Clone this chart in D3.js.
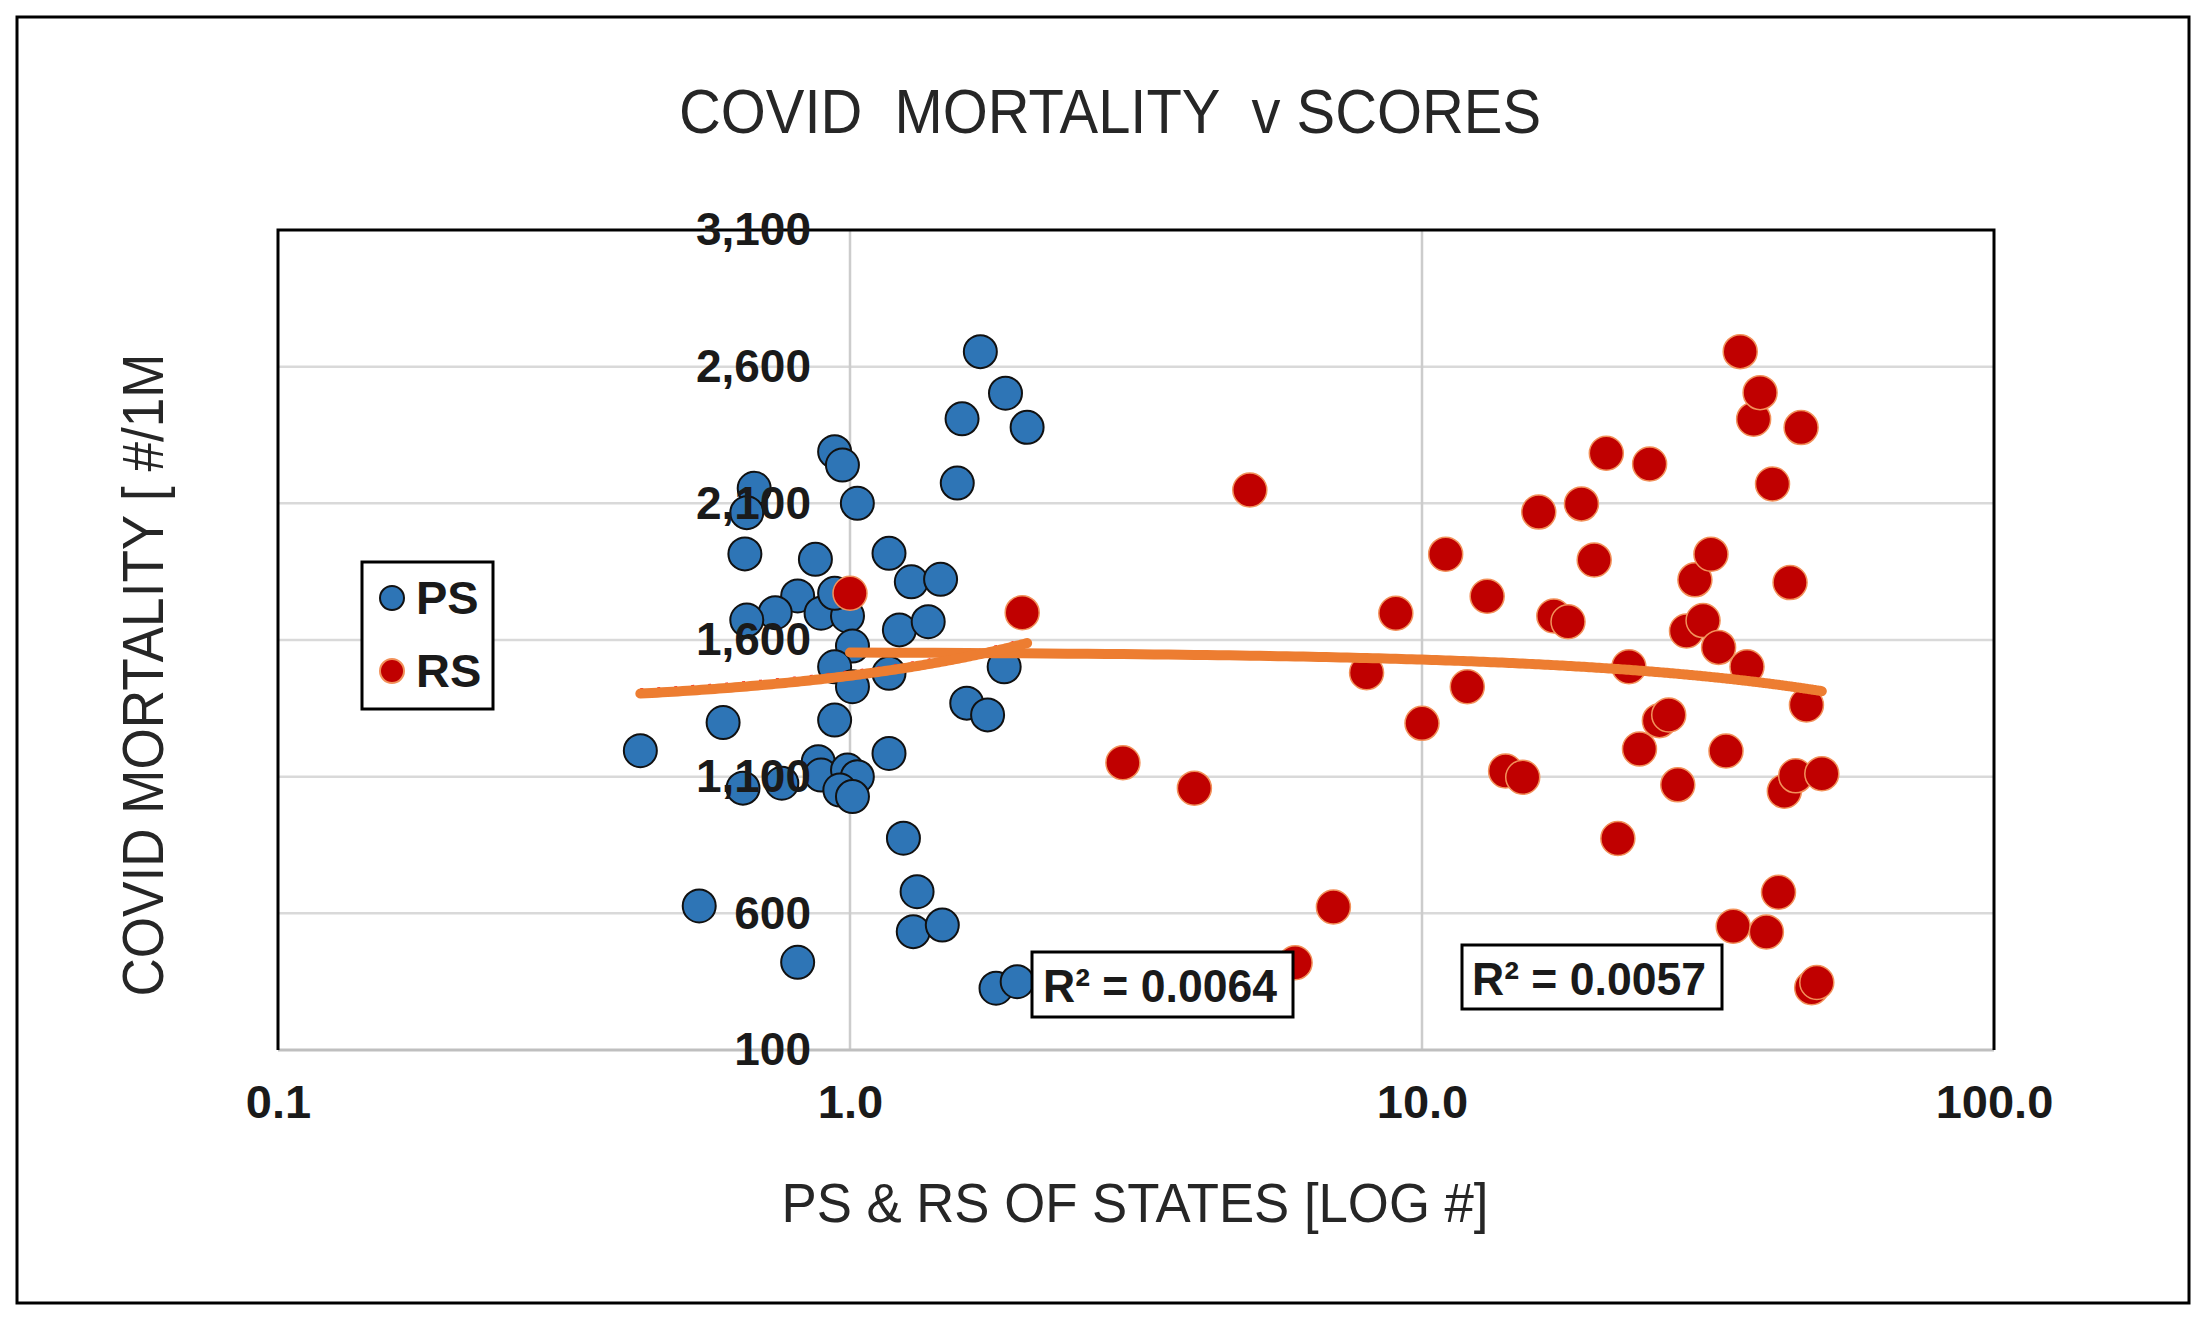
<!DOCTYPE html>
<html>
<head>
<meta charset="utf-8">
<script src="https://cdn.jsdelivr.net/npm/d3@7"></script>
<style>
  body { margin: 0; background: #fff; }
  svg { display: block; }
</style>
</head>
<body>
<div id="chart"></div>
<script>
// PS series: score (log x) and covid mortality per 1M
const psX = [1.69, 1.87, 1.57, 2.04, 0.94, 0.97, 1.54, 0.68, 0.66, 1.03,
             0.655, 0.87, 1.17, 1.28, 1.44, 0.81, 0.74, 0.66, 0.89, 0.99,
             1.22, 1.37, 0.94, 1.01, 0.94, 1.17, 1.86, 1.01, 1.60, 1.74,
             0.60, 0.94, 0.43, 1.17, 0.88, 0.89, 0.99, 1.03, 0.96, 1.01,
             0.65, 0.76, 1.24, 1.31, 1.29, 1.45, 0.545, 0.81, 1.80, 1.96];
const psY = [2655, 2503, 2409, 2378, 2289, 2240, 2174, 2155, 2066, 2100,
             1915, 1895, 1917, 1813, 1822, 1761, 1700, 1673, 1698, 1688,
             1637, 1667, 1771, 1578, 1502, 1478, 1502, 1429, 1369, 1326,
             1298, 1307, 1195, 1185, 1155, 1106, 1124, 1100, 1051, 1027,
             1058, 1076, 875, 679, 533, 557, 627, 421, 326, 350];

// RS series: rank of state (log x) and covid mortality per 1M
const rsX = [1, 2, 3, 4, 5, 6, 7, 8, 9, 10,
             11, 12, 13, 14, 15, 16, 17, 18, 19, 20,
             21, 22, 23, 24, 25, 26, 27, 28, 29, 30,
             31, 32, 33, 34, 35, 36, 37, 38, 39, 40,
             41, 42, 43, 44, 45, 46, 47, 48, 49, 50];
const rsY = [1771, 1700, 1151, 1058, 2149, 419, 623, 1480, 1698, 1295,
             1914, 1429, 1760, 1121, 1098, 2068, 1688, 1667, 2098, 1893,
             2283, 874, 1502, 1201, 2244, 1305, 1326, 1070, 1633, 1820,
             1671, 1914, 1573, 1194, 553, 2655, 1502, 2408, 2505, 532,
             2171, 677, 1047, 1810, 1103, 2377, 1362, 328, 347, 1111];

const xTicks = [0.1, 1, 10, 100];
const yTicks = [100, 600, 1100, 1600, 2100, 2600, 3100];
const seriesNames = ["PS", "RS"];
const r2Labels = ["R\u00B2 = 0.0064", "R\u00B2 = 0.0057"];

const FONT = "'Liberation Sans', Arial, Helvetica, sans-serif";
const BLUE = "#2E75B6", RED = "#C00000", ORANGE = "#ED7D31";

const width = 2210, height = 1329;
const plot = { left: 278, right: 1994, top: 230, bottom: 1050 };

const svg = d3.select("#chart")
    .append("svg")
    .attr("width", width)
    .attr("height", height)
    .style("font-family", FONT);

// outer frame
svg.append("rect")
    .attr("x", 17).attr("y", 17)
    .attr("width", 2172).attr("height", 1286)
    .attr("fill", "#fff")
    .attr("stroke", "#000")
    .attr("stroke-width", 3);

const x = d3.scaleLog().domain([0.1, 100]).range([plot.left, plot.right]);
const y = d3.scaleLinear().domain([100, 3100]).range([plot.bottom, plot.top]);

// gridlines
svg.append("g")
    .selectAll("line")
    .data(yTicks.slice(1, -1))
    .join("line")
    .attr("x1", plot.left).attr("x2", plot.right)
    .attr("y1", d => y(d)).attr("y2", d => y(d))
    .attr("stroke", "#d9d9d9")
    .attr("stroke-width", 2.5);

svg.append("g")
    .selectAll("line")
    .data(xTicks.slice(1, -1))
    .join("line")
    .attr("x1", d => x(d)).attr("x2", d => x(d))
    .attr("y1", plot.top).attr("y2", plot.bottom)
    .attr("stroke", "#cccccc")
    .attr("stroke-width", 2.5);

// plot border (bottom one is the grey axis line)
svg.append("line")
    .attr("x1", plot.left).attr("x2", plot.right)
    .attr("y1", plot.bottom).attr("y2", plot.bottom)
    .attr("stroke", "#bfbfbf")
    .attr("stroke-width", 3);
svg.append("path")
    .attr("d", `M${plot.left},${plot.bottom}V${plot.top}H${plot.right}V${plot.bottom}`)
    .attr("fill", "none")
    .attr("stroke", "#000")
    .attr("stroke-width", 3);

// points
svg.append("g")
    .selectAll("circle")
    .data(d3.zip(psX, psY))
    .join("circle")
    .attr("cx", d => x(d[0]))
    .attr("cy", d => y(d[1]))
    .attr("r", 16.5)
    .attr("fill", BLUE)
    .attr("stroke", "#111")
    .attr("stroke-width", 2);

svg.append("g")
    .selectAll("circle")
    .data(d3.zip(rsX, rsY))
    .join("circle")
    .attr("cx", d => x(d[0]))
    .attr("cy", d => y(d[1]))
    .attr("r", 17)
    .attr("fill", RED)
    .attr("stroke", "#F2915A")
    .attr("stroke-width", 1.5);

// linear trendlines (least squares on the data, drawn on the log axis)
function linearFit(xs, ys) {
    const mx = d3.mean(xs), my = d3.mean(ys);
    let sxy = 0, sxx = 0;
    xs.forEach((v, i) => { sxy += (v - mx) * (ys[i] - my); sxx += (v - mx) * (v - mx); });
    const slope = sxy / sxx;
    return { slope, intercept: my - slope * mx };
}

function trendPoints(xs, ys) {
    const f = linearFit(xs, ys);
    const [lo, hi] = d3.extent(xs);
    const lx = d3.scaleLog().domain([lo, hi]);
    return lx.ticks(200).concat([lo, hi])
        .filter(v => v >= lo && v <= hi)
        .sort((a, b) => a - b)
        .map(v => [v, f.intercept + f.slope * v]);
}

const line = d3.line().x(d => x(d[0])).y(d => y(d[1]));
const psTrend = trendPoints(psX, psY);
const rsTrend = trendPoints(rsX, rsY);

svg.append("path")
    .attr("d", line(psTrend))
    .attr("transform", "translate(0,-4)")
    .attr("fill", "none")
    .attr("stroke", "#ff1a1a")
    .attr("stroke-width", 3)
    .attr("stroke-dasharray", "3,14");

[rsTrend, psTrend].forEach(t => {
    svg.append("path")
        .attr("d", line(t))
        .attr("fill", "none")
        .attr("stroke", ORANGE)
        .attr("stroke-width", 10)
        .attr("stroke-linecap", "round");
});

// y axis labels sit on the x = 1.0 line
svg.append("g")
    .attr("transform", `translate(${x(1)},0)`)
    .call(d3.axisLeft(y).tickValues(yTicks).tickFormat(d3.format(",")).tickSize(0).tickPadding(39))
    .call(g => g.select(".domain").remove())
    .attr("font-family", FONT)
    .attr("font-size", 46)
    .attr("font-weight", "bold")
    .attr("color", "#1a1a1a");

svg.append("g")
    .attr("transform", `translate(0,${plot.bottom})`)
    .call(d3.axisBottom(x).tickValues(xTicks).tickFormat(d3.format(".1f")).tickSize(0).tickPadding(35))
    .call(g => g.select(".domain").remove())
    .attr("font-family", FONT)
    .attr("font-size", 47)
    .attr("font-weight", "bold")
    .attr("color", "#1a1a1a");

// titles
svg.append("text")
    .attr("x", 1110).attr("y", 133)
    .attr("text-anchor", "middle")
    .attr("font-size", 63)
    .attr("fill", "#262626")
    .attr("textLength", 862)
    .attr("lengthAdjust", "spacingAndGlyphs")
    .style("white-space", "pre")
    .text("COVID  MORTALITY  v SCORES");

svg.append("text")
    .attr("x", 1135).attr("y", 1222)
    .attr("text-anchor", "middle")
    .attr("font-size", 56)
    .attr("fill", "#262626")
    .attr("textLength", 707)
    .attr("lengthAdjust", "spacingAndGlyphs")
    .text("PS & RS OF STATES [LOG #]");

svg.append("text")
    .attr("transform", "translate(163,675) rotate(-90)")
    .attr("text-anchor", "middle")
    .attr("font-size", 58)
    .attr("fill", "#262626")
    .attr("textLength", 643)
    .attr("lengthAdjust", "spacingAndGlyphs")
    .text("COVID MORTALITY [ #/1M");

// R² labels
const r2Boxes = [
    { x: 1032, y: 952, w: 261, h: 65, tx: 1043, ty: 1002 },
    { x: 1462, y: 945, w: 260, h: 64, tx: 1472, ty: 995 }
];
r2Boxes.forEach((b, i) => {
    svg.append("rect")
        .attr("x", b.x).attr("y", b.y)
        .attr("width", b.w).attr("height", b.h)
        .attr("fill", "#fff")
        .attr("stroke", "#000")
        .attr("stroke-width", 3);
    svg.append("text")
        .attr("x", b.tx).attr("y", b.ty)
        .attr("font-size", 47)
        .attr("font-weight", "bold")
        .attr("fill", "#1a1a1a")
        .attr("textLength", 234)
        .attr("lengthAdjust", "spacingAndGlyphs")
        .text(r2Labels[i]);
});

// legend
const legend = svg.append("g");
legend.append("rect")
    .attr("x", 362).attr("y", 562)
    .attr("width", 131).attr("height", 147)
    .attr("fill", "#fff")
    .attr("stroke", "#000")
    .attr("stroke-width", 3);

const legendY = d3.scalePoint().domain(seriesNames).range([598, 671]);
legend.selectAll("circle")
    .data(seriesNames)
    .join("circle")
    .attr("cx", 392)
    .attr("cy", d => legendY(d))
    .attr("r", 12)
    .attr("fill", d => d === "PS" ? BLUE : RED)
    .attr("stroke", d => d === "PS" ? "#111" : "#F2915A")
    .attr("stroke-width", 2);
legend.selectAll("text")
    .data(seriesNames)
    .join("text")
    .attr("x", 416)
    .attr("y", d => legendY(d) + 16)
    .attr("font-size", 47)
    .attr("font-weight", "bold")
    .attr("fill", "#1a1a1a")
    .text(d => d);
</script>
</body>
</html>
